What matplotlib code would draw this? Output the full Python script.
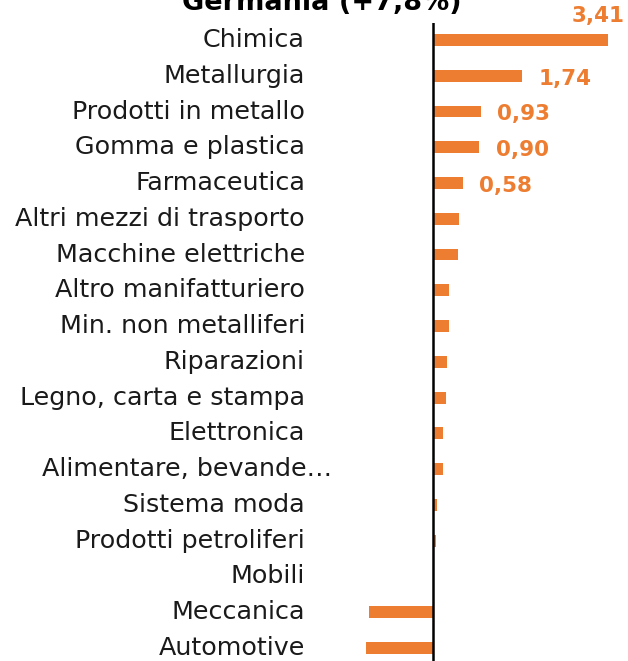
import matplotlib
matplotlib.use("Agg")
import matplotlib.pyplot as plt
import matplotlib.transforms as mtransforms
import numpy as np

# contributi per settore (punti percentuali)
settori = [
    "Chimica", "Metallurgia", "Prodotti in metallo", "Gomma e plastica",
    "Farmaceutica", "Altri mezzi di trasporto", "Macchine elettriche",
    "Altro manifatturiero", "Min. non metalliferi", "Riparazioni",
    "Legno, carta e stampa", "Elettronica", "Alimentare, bevande…",
    "Sistema moda", "Prodotti petroliferi", "Mobili", "Meccanica", "Automotive",
]
valori = [3.41, 1.74, 0.93, 0.90, 0.58, 0.50, 0.49, 0.32, 0.32, 0.27,
          0.25, 0.19, 0.19, 0.08, 0.05, 0.0, -1.25, -1.31]
etichette = ["3,41", "1,74", "0,93", "0,90", "0,58"]
titolo = "Germania (+7,8%)"

ARANCIO = "#ED7D31"

fig = plt.figure(figsize=(6.28, 6.61), dpi=100)
ax = fig.add_axes([356 / 628, 0, 261.6 / 628, 638 / 661])

y = np.arange(len(settori))
ax.barh(y, valori, height=0.33, color=ARANCIO)
ax.set_xlim(-1.5, 3.6)
ax.set_ylim(17.365, -0.475)

ax.axvline(0, color="black", linewidth=1.8)
for s in ax.spines.values():
    s.set_visible(False)
ax.set_xticks([])
ax.set_yticks([])

# etichette categorie, allineate a destra (x in coordinate figura, y in dati)
trans = mtransforms.blended_transform_factory(fig.transFigure, ax.transData)
for i, nome in enumerate(settori):
    xr = 305 if not nome.startswith("Alimentare") else 332
    ax.text(xr / 628, i, nome, transform=trans,
            ha="right", va="center", fontsize=18.3, color="#1a1a1a")

# valori
for i, lab in enumerate(etichette):
    if i == 0:
        ax.annotate(lab, (valori[i], i), xytext=(12, 17), textcoords="offset points",
                    ha="right", va="center", fontsize=15.5, fontweight="bold", color=ARANCIO)
    else:
        ax.annotate(lab, (valori[i], i), xytext=(12, -2), textcoords="offset points",
                    ha="left", va="center", fontsize=15.5, fontweight="bold", color=ARANCIO)

fig.text(322 / 628, 1 - 10 / 661, titolo, ha="center", va="baseline",
         fontsize=19.5, fontweight="bold", color="black")

fig.savefig("out.png", dpi=100)
